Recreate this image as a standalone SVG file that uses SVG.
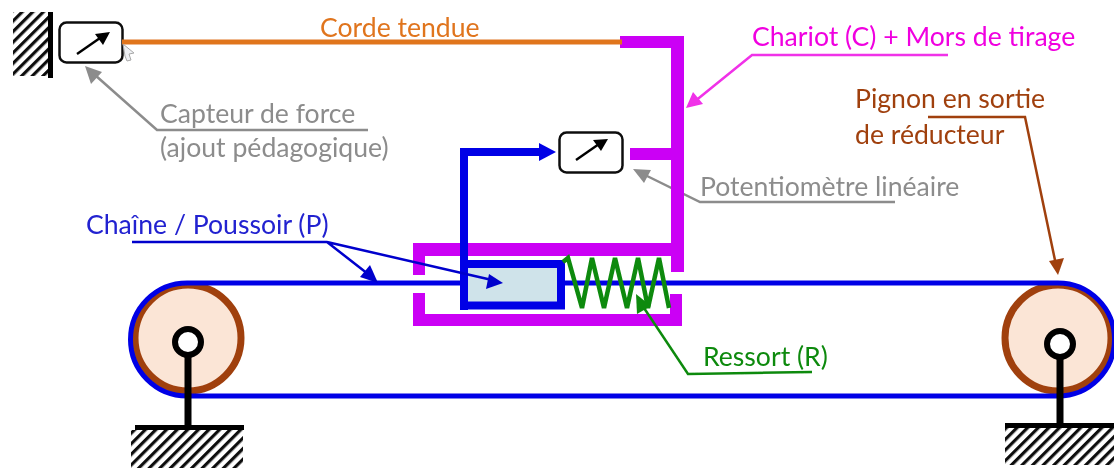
<svg xmlns="http://www.w3.org/2000/svg" width="1114" height="468" viewBox="0 0 1114 468">
<style>
text{font-family:Lato,"Liberation Sans",sans-serif;font-size:26.6px}
.gray{fill:#8c8c8c}
.lead{fill:none;stroke-width:2.500}
.mag{fill:#cb00f5}
.meter{fill:#fff;stroke:#111;stroke-width:2.500}
</style>
<defs>
<pattern id="hatch" width="7.500" height="7.500" patternUnits="userSpaceOnUse" patternTransform="rotate(-45)"><rect width="7.500" height="3.200" fill="#111"/></pattern>
<filter id="soft" x="0" y="0" width="1" height="1"><feGaussianBlur stdDeviation="0.7"/></filter>
</defs>
<rect width="1114" height="468" fill="#fff"/>
<g filter="url(#soft)">
<g id="wall-left"><rect x="13" y="12" width="36" height="64" fill="url(#hatch)"/><rect x="48" y="12" width="5" height="66" fill="#000"/></g>
<g id="capteur-force"><rect class="meter" x="59.500" y="22.500" width="63" height="40" rx="7"/><path d="M77 54L100 38" stroke="#000" stroke-width="2.500"/><path d="M110 32L103 45L95 34z" fill="#000"/></g>
<g id="pulley-left"><circle cx="188" cy="338" r="53" fill="#fbe5d6" stroke="#a0400f" stroke-width="7"/></g>
<g id="pulley-right"><circle cx="1058" cy="338" r="53" fill="#fbe5d6" stroke="#a0400f" stroke-width="7"/></g>
<g id="connectors-back">
<path class="lead" d="M895 202H700L643 174" stroke="#8c8c8c"/>
<path d="M633 169L651 170L644 183z" fill="#8c8c8c"/>
</g>
<g id="chariot"><path class="mag" d="M620 36H684V272H671V160H630V148H671V48H620z"/><path class="mag" d="M413 243H671V256H425V275H413z"/><path class="mag" d="M413 293H425V314H670V294H682V326H413z"/></g>
<g id="poussoir"><rect x="464" y="264" width="97" height="41.500" fill="#cfe3ea" stroke="#0000e6" stroke-width="8"/></g>
<g id="potentiometre"><rect class="meter" x="559.500" y="132.500" width="63" height="40" rx="7"/><path d="M576 160L599 144" stroke="#000" stroke-width="2.500"/><path d="M608 139L601 151L593 140z" fill="#000"/></g>
<g id="connectors">
<path d="M122 42H622" stroke="#e0741f" stroke-width="5" fill="none"/>
<path d="M460 283H187A56.500 56.500 0 0 0 187 396H1058A56.500 56.500 0 0 0 1058 283H565" fill="none" stroke="#0000e6" stroke-width="5"/>
<path d="M464 310V152H540" fill="none" stroke="#0000e6" stroke-width="8"/>
<path d="M556 152L539 143V161z" fill="#0000e6"/>
<path d="M563 262L568 258L582 308L592 258L604 308L615 258L627 308L638 258L648 308L659 258L669 308" fill="none" stroke="#118a11" stroke-width="4.500"/>
<path class="lead" d="M948 55H752L694 102" stroke="#f030e8"/>
<path d="M686 108L693 92L703 104z" fill="#f030e8"/>
<path class="lead" d="M928 117H1025L1056 265" stroke="#a0400f"/>
<path d="M1058 275L1049 261L1064 258z" fill="#a0400f"/>
<path class="lead" d="M368 130H157L95 75" stroke="#8c8c8c"/>
<path d="M85 66L102 72L91 84z" fill="#8c8c8c"/>
<path class="lead" d="M812 372L688 374L642 305" stroke="#118a11"/>
<path d="M636 294L651 306L637 314z" fill="#118a11"/>
<path class="lead" d="M132 242H327L368 274M327 242L492 280" stroke="#0000cc"/>
<path d="M378 283L360 277L370 265z" fill="#0000cc"/>
<path d="M503 283L486 289L489 274z" fill="#0000cc"/>
</g>
<g id="axle-left"><path d="M188 356V428" stroke="#000" stroke-width="7"/><circle cx="188" cy="342" r="13" fill="#fff" stroke="#000" stroke-width="6"/></g>
<g id="axle-right"><path d="M1060 358V426" stroke="#000" stroke-width="7"/><circle cx="1060" cy="344" r="13" fill="#fff" stroke="#000" stroke-width="6"/></g>
<g id="ground-left"><rect x="131" y="430" width="112" height="38" fill="url(#hatch)"/><rect x="135" y="425" width="109" height="5" fill="#000"/></g>
<g id="ground-right"><rect x="1005" y="428" width="109" height="37" fill="url(#hatch)"/><rect x="1005" y="423" width="109" height="5" fill="#000"/></g>
<g id="cursor"><path d="M123 44L134 53L129 54L131 60L127 61L125 56z" fill="#eef0f4" stroke="#a8a8a8" stroke-width="1"/></g>
<g id="labels">
<text x="320" y="36.500" fill="#e0741f">Corde tendue</text>
<text x="752" y="45.500" fill="#f000e0">Chariot (C) + Mors de tirage</text>
<text x="855" y="107.500" fill="#a0400f">Pignon en sortie</text>
<text x="855" y="144" fill="#a0400f">de réducteur</text>
<text x="160" y="123" class="gray">Capteur de force</text>
<text x="160" y="157" class="gray">(ajout pédagogique)</text>
<text x="700" y="195.500" class="gray">Potentiomètre linéaire</text>
<text x="86" y="233.500" fill="#2020d0">Chaîne / Poussoir (P)</text>
<text x="703" y="365.500" fill="#118a11">Ressort (R)</text>
</g>
</g>
</svg>
